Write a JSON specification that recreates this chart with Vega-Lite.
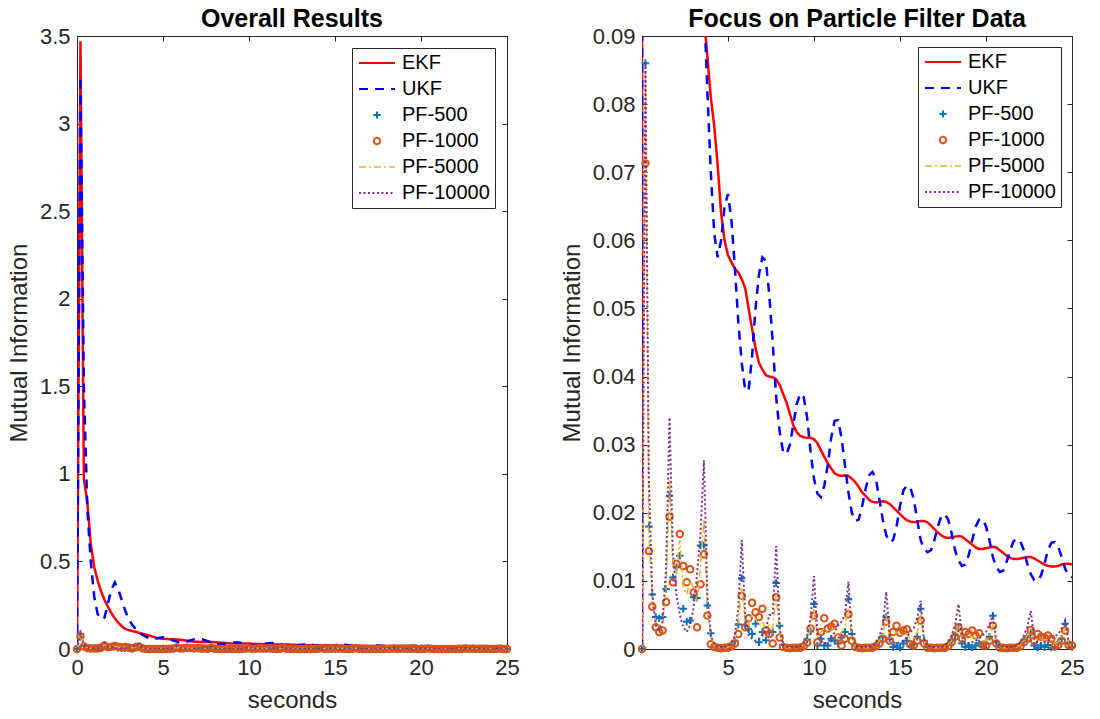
{
"$schema": "https://vega.github.io/schema/vega-lite/v6.json",
"background": "white",
"padding": {"left": 6, "top": 6, "right": 0, "bottom": 0},
"config": {
  "view": {"stroke": "#262626", "strokeWidth": 1},
  "axis": {"grid": false, "domain": false, "tickColor": "#262626", "tickSize": -5, "tickWidth": 1,
    "labelFont": "Liberation Sans", "labelFontSize": 22, "labelColor": "#262626",
    "titleFont": "Liberation Sans", "titleFontSize": 24, "titleFontWeight": "normal", "titleColor": "#262626",
    "labelFlush": false, "labelOverlap": false},
  "title": {"font": "Liberation Sans", "fontSize": 25, "fontWeight": "bold", "color": "#000000", "offset": -7}
},
"datasets": {"mi": [
{"t":0,"EKF":0,"UKF":0,"PF-500":0,"PF-1000":0,"PF-5000":0,"PF-10000":0},
{"t":0.2,"EKF":3.47,"UKF":3.27,"PF-500":0.086,"PF-1000":0.0713,"PF-5000":0.085,"PF-10000":0.086},
{"t":0.4,"EKF":0.97,"UKF":1.5,"PF-500":0.018,"PF-1000":0.0144,"PF-5000":0.017,"PF-10000":0.025},
{"t":0.6,"EKF":0.84,"UKF":0.8,"PF-500":0.008,"PF-1000":0.0062,"PF-5000":0.007,"PF-10000":0.008},
{"t":0.8,"EKF":0.6,"UKF":0.5,"PF-500":0.0047,"PF-1000":0.0032,"PF-5000":0.004,"PF-10000":0.0035},
{"t":1.0,"EKF":0.47,"UKF":0.3,"PF-500":0.0045,"PF-1000":0.0025,"PF-5000":0.0035,"PF-10000":0.0028},
{"t":1.2,"EKF":0.39,"UKF":0.2,"PF-500":0.0047,"PF-1000":0.0027,"PF-5000":0.004,"PF-10000":0.004},
{"t":1.4,"EKF":0.33,"UKF":0.17,"PF-500":0.0088,"PF-1000":0.0069,"PF-5000":0.009,"PF-10000":0.012},
{"t":1.6,"EKF":0.28,"UKF":0.18,"PF-500":0.0225,"PF-1000":0.0194,"PF-5000":0.025,"PF-10000":0.034},
{"t":1.8,"EKF":0.24,"UKF":0.26,"PF-500":0.0105,"PF-1000":0.0098,"PF-5000":0.012,"PF-10000":0.014},
{"t":2.0,"EKF":0.205,"UKF":0.34,"PF-500":0.012,"PF-1000":0.0125,"PF-5000":0.011,"PF-10000":0.008},
{"t":2.2,"EKF":0.175,"UKF":0.38,"PF-500":0.0137,"PF-1000":0.0169,"PF-5000":0.016,"PF-10000":0.005},
{"t":2.4,"EKF":0.15,"UKF":0.34,"PF-500":0.0059,"PF-1000":0.0122,"PF-5000":0.009,"PF-10000":0.0032},
{"t":2.6,"EKF":0.13,"UKF":0.28,"PF-500":0.004,"PF-1000":0.0098,"PF-5000":0.008,"PF-10000":0.0025},
{"t":2.8,"EKF":0.115,"UKF":0.22,"PF-500":0.0042,"PF-1000":0.0117,"PF-5000":0.01,"PF-10000":0.0035},
{"t":3.0,"EKF":0.108,"UKF":0.17,"PF-500":0.0076,"PF-1000":0.0083,"PF-5000":0.009,"PF-10000":0.006},
{"t":3.2,"EKF":0.103,"UKF":0.14,"PF-500":0.0075,"PF-1000":0.0032,"PF-5000":0.007,"PF-10000":0.011},
{"t":3.4,"EKF":0.099,"UKF":0.115,"PF-500":0.0152,"PF-1000":0.0095,"PF-5000":0.012,"PF-10000":0.017},
{"t":3.6,"EKF":0.093,"UKF":0.095,"PF-500":0.0152,"PF-1000":0.0139,"PF-5000":0.019,"PF-10000":0.0277},
{"t":3.8,"EKF":0.087,"UKF":0.082,"PF-500":0.0064,"PF-1000":0.0049,"PF-5000":0.006,"PF-10000":0.008},
{"t":4.0,"EKF":0.081,"UKF":0.07,"PF-500":0.0023,"PF-1000":0.0007,"PF-5000":0.0015,"PF-10000":0.002},
{"t":4.2,"EKF":0.0768,"UKF":0.061,"PF-500":0.0005,"PF-1000":0.0003,"PF-5000":0.0004,"PF-10000":0.0006},
{"t":4.4,"EKF":0.071,"UKF":0.0575,"PF-500":0.0002,"PF-1000":0.0002,"PF-5000":0.0002,"PF-10000":0.0003},
{"t":4.6,"EKF":0.064,"UKF":0.06,"PF-500":0.0002,"PF-1000":0.0001,"PF-5000":0.0002,"PF-10000":0.0003},
{"t":4.8,"EKF":0.06,"UKF":0.065,"PF-500":0.0002,"PF-1000":0.0002,"PF-5000":0.0002,"PF-10000":0.0003},
{"t":5.0,"EKF":0.0578,"UKF":0.0668,"PF-500":0.0003,"PF-1000":0.0002,"PF-5000":0.0003,"PF-10000":0.0004},
{"t":5.2,"EKF":0.0568,"UKF":0.063,"PF-500":0.0006,"PF-1000":0.0004,"PF-5000":0.0005,"PF-10000":0.0008},
{"t":5.4,"EKF":0.0558,"UKF":0.056,"PF-500":0.0012,"PF-1000":0.0008,"PF-5000":0.0015,"PF-10000":0.002},
{"t":5.6,"EKF":0.0553,"UKF":0.048,"PF-500":0.0036,"PF-1000":0.0022,"PF-5000":0.004,"PF-10000":0.006},
{"t":5.8,"EKF":0.0543,"UKF":0.042,"PF-500":0.0104,"PF-1000":0.0078,"PF-5000":0.009,"PF-10000":0.016},
{"t":6.0,"EKF":0.053,"UKF":0.038,"PF-500":0.0035,"PF-1000":0.0032,"PF-5000":0.004,"PF-10000":0.005},
{"t":6.2,"EKF":0.05,"UKF":0.038,"PF-500":0.0029,"PF-1000":0.0045,"PF-5000":0.0035,"PF-10000":0.002},
{"t":6.4,"EKF":0.047,"UKF":0.043,"PF-500":0.0022,"PF-1000":0.0068,"PF-5000":0.005,"PF-10000":0.0015},
{"t":6.6,"EKF":0.0442,"UKF":0.05,"PF-500":0.0037,"PF-1000":0.0054,"PF-5000":0.0045,"PF-10000":0.0012},
{"t":6.8,"EKF":0.042,"UKF":0.055,"PF-500":0.001,"PF-1000":0.0047,"PF-5000":0.0035,"PF-10000":0.0015},
{"t":7.0,"EKF":0.041,"UKF":0.0575,"PF-500":0.0025,"PF-1000":0.0059,"PF-5000":0.004,"PF-10000":0.002},
{"t":7.2,"EKF":0.0402,"UKF":0.057,"PF-500":0.0013,"PF-1000":0.0027,"PF-5000":0.003,"PF-10000":0.003},
{"t":7.4,"EKF":0.04,"UKF":0.052,"PF-500":0.0025,"PF-1000":0.0022,"PF-5000":0.0035,"PF-10000":0.005},
{"t":7.6,"EKF":0.0399,"UKF":0.045,"PF-500":0.0025,"PF-1000":0.0008,"PF-5000":0.003,"PF-10000":0.005},
{"t":7.8,"EKF":0.0396,"UKF":0.037,"PF-500":0.0097,"PF-1000":0.0076,"PF-5000":0.008,"PF-10000":0.0151},
{"t":8.0,"EKF":0.0388,"UKF":0.032,"PF-500":0.0034,"PF-1000":0.0017,"PF-5000":0.0025,"PF-10000":0.003},
{"t":8.2,"EKF":0.0375,"UKF":0.029,"PF-500":0.0006,"PF-1000":0.0003,"PF-5000":0.0005,"PF-10000":0.0006},
{"t":8.4,"EKF":0.0362,"UKF":0.0286,"PF-500":0.0002,"PF-1000":0.0002,"PF-5000":0.0002,"PF-10000":0.0003},
{"t":8.6,"EKF":0.0345,"UKF":0.03,"PF-500":0.0002,"PF-1000":0.0001,"PF-5000":0.0002,"PF-10000":0.0003},
{"t":8.8,"EKF":0.0328,"UKF":0.033,"PF-500":0.0002,"PF-1000":0.0002,"PF-5000":0.0002,"PF-10000":0.0003},
{"t":9.0,"EKF":0.0318,"UKF":0.036,"PF-500":0.0002,"PF-1000":0.0002,"PF-5000":0.0002,"PF-10000":0.0003},
{"t":9.2,"EKF":0.0313,"UKF":0.0375,"PF-500":0.0003,"PF-1000":0.0002,"PF-5000":0.0003,"PF-10000":0.0004},
{"t":9.4,"EKF":0.0311,"UKF":0.037,"PF-500":0.0006,"PF-1000":0.0004,"PF-5000":0.0006,"PF-10000":0.0008},
{"t":9.6,"EKF":0.031,"UKF":0.034,"PF-500":0.0014,"PF-1000":0.0009,"PF-5000":0.0015,"PF-10000":0.002},
{"t":9.8,"EKF":0.031,"UKF":0.029,"PF-500":0.0026,"PF-1000":0.003,"PF-5000":0.003,"PF-10000":0.0045},
{"t":10.0,"EKF":0.0308,"UKF":0.025,"PF-500":0.0066,"PF-1000":0.0049,"PF-5000":0.006,"PF-10000":0.0107},
{"t":10.2,"EKF":0.0302,"UKF":0.0228,"PF-500":0.0005,"PF-1000":0.001,"PF-5000":0.0018,"PF-10000":0.002},
{"t":10.4,"EKF":0.0292,"UKF":0.0223,"PF-500":0.0015,"PF-1000":0.0025,"PF-5000":0.0025,"PF-10000":0.0012},
{"t":10.6,"EKF":0.0282,"UKF":0.024,"PF-500":0.0005,"PF-1000":0.0045,"PF-5000":0.003,"PF-10000":0.0008},
{"t":10.8,"EKF":0.0273,"UKF":0.027,"PF-500":0.0005,"PF-1000":0.003,"PF-5000":0.0025,"PF-10000":0.001},
{"t":11.0,"EKF":0.0265,"UKF":0.031,"PF-500":0.0015,"PF-1000":0.0033,"PF-5000":0.0028,"PF-10000":0.0015},
{"t":11.2,"EKF":0.0258,"UKF":0.0335,"PF-500":0.0012,"PF-1000":0.0037,"PF-5000":0.003,"PF-10000":0.0025},
{"t":11.4,"EKF":0.0255,"UKF":0.0336,"PF-500":0.0008,"PF-1000":0.0017,"PF-5000":0.002,"PF-10000":0.0035},
{"t":11.6,"EKF":0.0254,"UKF":0.031,"PF-500":0.0017,"PF-1000":0.0005,"PF-5000":0.0025,"PF-10000":0.004},
{"t":11.8,"EKF":0.0255,"UKF":0.027,"PF-500":0.0025,"PF-1000":0.0015,"PF-5000":0.0035,"PF-10000":0.005},
{"t":12.0,"EKF":0.0254,"UKF":0.023,"PF-500":0.0073,"PF-1000":0.0051,"PF-5000":0.006,"PF-10000":0.0099},
{"t":12.2,"EKF":0.025,"UKF":0.02,"PF-500":0.0022,"PF-1000":0.0012,"PF-5000":0.0018,"PF-10000":0.002},
{"t":12.4,"EKF":0.0245,"UKF":0.0188,"PF-500":0.0005,"PF-1000":0.0003,"PF-5000":0.0004,"PF-10000":0.0005},
{"t":12.6,"EKF":0.0238,"UKF":0.019,"PF-500":0.0002,"PF-1000":0.0002,"PF-5000":0.0002,"PF-10000":0.0003},
{"t":12.8,"EKF":0.023,"UKF":0.021,"PF-500":0.0002,"PF-1000":0.0001,"PF-5000":0.0002,"PF-10000":0.0003},
{"t":13.0,"EKF":0.0225,"UKF":0.0235,"PF-500":0.0002,"PF-1000":0.0002,"PF-5000":0.0002,"PF-10000":0.0003},
{"t":13.2,"EKF":0.0219,"UKF":0.0255,"PF-500":0.0002,"PF-1000":0.0002,"PF-5000":0.0002,"PF-10000":0.0003},
{"t":13.4,"EKF":0.0216,"UKF":0.026,"PF-500":0.0003,"PF-1000":0.0002,"PF-5000":0.0003,"PF-10000":0.0004},
{"t":13.6,"EKF":0.0215,"UKF":0.025,"PF-500":0.0005,"PF-1000":0.0004,"PF-5000":0.0006,"PF-10000":0.0008},
{"t":13.8,"EKF":0.0216,"UKF":0.022,"PF-500":0.0012,"PF-1000":0.0008,"PF-5000":0.0012,"PF-10000":0.0018},
{"t":14.0,"EKF":0.0217,"UKF":0.019,"PF-500":0.0018,"PF-1000":0.0015,"PF-5000":0.002,"PF-10000":0.0035},
{"t":14.2,"EKF":0.0216,"UKF":0.0167,"PF-500":0.0047,"PF-1000":0.004,"PF-5000":0.005,"PF-10000":0.0084},
{"t":14.4,"EKF":0.0213,"UKF":0.0157,"PF-500":0.0015,"PF-1000":0.0012,"PF-5000":0.0015,"PF-10000":0.002},
{"t":14.6,"EKF":0.0208,"UKF":0.016,"PF-500":0.0003,"PF-1000":0.0025,"PF-5000":0.002,"PF-10000":0.001},
{"t":14.8,"EKF":0.0203,"UKF":0.018,"PF-500":0.0005,"PF-1000":0.0034,"PF-5000":0.0025,"PF-10000":0.0008},
{"t":15.0,"EKF":0.0198,"UKF":0.021,"PF-500":0.0002,"PF-1000":0.0024,"PF-5000":0.002,"PF-10000":0.001},
{"t":15.2,"EKF":0.0193,"UKF":0.0233,"PF-500":0.0008,"PF-1000":0.0027,"PF-5000":0.0022,"PF-10000":0.0012},
{"t":15.4,"EKF":0.0189,"UKF":0.024,"PF-500":0.0012,"PF-1000":0.0029,"PF-5000":0.0022,"PF-10000":0.0018},
{"t":15.6,"EKF":0.0187,"UKF":0.0237,"PF-500":0.0004,"PF-1000":0.0007,"PF-5000":0.0015,"PF-10000":0.0025},
{"t":15.8,"EKF":0.0186,"UKF":0.022,"PF-500":0.0007,"PF-1000":0.0005,"PF-5000":0.0015,"PF-10000":0.003},
{"t":16.0,"EKF":0.0187,"UKF":0.019,"PF-500":0.0018,"PF-1000":0.0012,"PF-5000":0.0025,"PF-10000":0.0045},
{"t":16.2,"EKF":0.0188,"UKF":0.016,"PF-500":0.0059,"PF-1000":0.0042,"PF-5000":0.005,"PF-10000":0.0071},
{"t":16.4,"EKF":0.0188,"UKF":0.0147,"PF-500":0.0012,"PF-1000":0.0008,"PF-5000":0.001,"PF-10000":0.0012},
{"t":16.6,"EKF":0.0186,"UKF":0.0142,"PF-500":0.0003,"PF-1000":0.0002,"PF-5000":0.0003,"PF-10000":0.0004},
{"t":16.8,"EKF":0.0181,"UKF":0.0145,"PF-500":0.0002,"PF-1000":0.0002,"PF-5000":0.0002,"PF-10000":0.0003},
{"t":17.0,"EKF":0.0176,"UKF":0.016,"PF-500":0.0002,"PF-1000":0.0001,"PF-5000":0.0002,"PF-10000":0.0003},
{"t":17.2,"EKF":0.0171,"UKF":0.018,"PF-500":0.0002,"PF-1000":0.0002,"PF-5000":0.0002,"PF-10000":0.0003},
{"t":17.4,"EKF":0.0167,"UKF":0.0195,"PF-500":0.0002,"PF-1000":0.0002,"PF-5000":0.0002,"PF-10000":0.0003},
{"t":17.6,"EKF":0.0164,"UKF":0.0198,"PF-500":0.0003,"PF-1000":0.0002,"PF-5000":0.0003,"PF-10000":0.0005},
{"t":17.8,"EKF":0.0163,"UKF":0.019,"PF-500":0.0006,"PF-1000":0.0004,"PF-5000":0.0006,"PF-10000":0.001},
{"t":18.0,"EKF":0.0164,"UKF":0.017,"PF-500":0.0012,"PF-1000":0.001,"PF-5000":0.0012,"PF-10000":0.002},
{"t":18.2,"EKF":0.0165,"UKF":0.0145,"PF-500":0.002,"PF-1000":0.0018,"PF-5000":0.0022,"PF-10000":0.0035},
{"t":18.4,"EKF":0.0166,"UKF":0.013,"PF-500":0.003,"PF-1000":0.0032,"PF-5000":0.0035,"PF-10000":0.0066},
{"t":18.6,"EKF":0.0165,"UKF":0.0122,"PF-500":0.0008,"PF-1000":0.0015,"PF-5000":0.0015,"PF-10000":0.002},
{"t":18.8,"EKF":0.0161,"UKF":0.0124,"PF-500":0.0003,"PF-1000":0.0025,"PF-5000":0.0018,"PF-10000":0.0008},
{"t":19.0,"EKF":0.0157,"UKF":0.0138,"PF-500":0.0005,"PF-1000":0.0022,"PF-5000":0.0018,"PF-10000":0.0008},
{"t":19.2,"EKF":0.0153,"UKF":0.016,"PF-500":0.0002,"PF-1000":0.0027,"PF-5000":0.0018,"PF-10000":0.001},
{"t":19.4,"EKF":0.0149,"UKF":0.018,"PF-500":0.0005,"PF-1000":0.002,"PF-5000":0.0016,"PF-10000":0.0012},
{"t":19.6,"EKF":0.0147,"UKF":0.019,"PF-500":0.0008,"PF-1000":0.0023,"PF-5000":0.0018,"PF-10000":0.0015},
{"t":19.8,"EKF":0.0147,"UKF":0.0191,"PF-500":0.0004,"PF-1000":0.0006,"PF-5000":0.0012,"PF-10000":0.002},
{"t":20.0,"EKF":0.0148,"UKF":0.018,"PF-500":0.0008,"PF-1000":0.0005,"PF-5000":0.0012,"PF-10000":0.0025},
{"t":20.2,"EKF":0.0149,"UKF":0.016,"PF-500":0.0018,"PF-1000":0.0012,"PF-5000":0.002,"PF-10000":0.0035},
{"t":20.4,"EKF":0.015,"UKF":0.0135,"PF-500":0.0049,"PF-1000":0.0034,"PF-5000":0.0035,"PF-10000":0.0051},
{"t":20.6,"EKF":0.0149,"UKF":0.012,"PF-500":0.001,"PF-1000":0.0008,"PF-5000":0.001,"PF-10000":0.0012},
{"t":20.8,"EKF":0.0145,"UKF":0.0113,"PF-500":0.0003,"PF-1000":0.0002,"PF-5000":0.0003,"PF-10000":0.0004},
{"t":21.0,"EKF":0.0141,"UKF":0.0115,"PF-500":0.0002,"PF-1000":0.0002,"PF-5000":0.0002,"PF-10000":0.0003},
{"t":21.2,"EKF":0.0137,"UKF":0.0128,"PF-500":0.0002,"PF-1000":0.0001,"PF-5000":0.0002,"PF-10000":0.0003},
{"t":21.4,"EKF":0.0134,"UKF":0.0145,"PF-500":0.0002,"PF-1000":0.0002,"PF-5000":0.0002,"PF-10000":0.0003},
{"t":21.6,"EKF":0.0132,"UKF":0.0158,"PF-500":0.0002,"PF-1000":0.0002,"PF-5000":0.0002,"PF-10000":0.0003},
{"t":21.8,"EKF":0.0132,"UKF":0.0162,"PF-500":0.0003,"PF-1000":0.0002,"PF-5000":0.0003,"PF-10000":0.0005},
{"t":22.0,"EKF":0.0133,"UKF":0.0158,"PF-500":0.0006,"PF-1000":0.0004,"PF-5000":0.0006,"PF-10000":0.001},
{"t":22.2,"EKF":0.0134,"UKF":0.0145,"PF-500":0.0012,"PF-1000":0.001,"PF-5000":0.0012,"PF-10000":0.002},
{"t":22.4,"EKF":0.0135,"UKF":0.0125,"PF-500":0.0018,"PF-1000":0.0015,"PF-5000":0.002,"PF-10000":0.0032},
{"t":22.6,"EKF":0.0135,"UKF":0.011,"PF-500":0.0024,"PF-1000":0.0028,"PF-5000":0.003,"PF-10000":0.0056},
{"t":22.8,"EKF":0.0133,"UKF":0.0101,"PF-500":0.0005,"PF-1000":0.0012,"PF-5000":0.0012,"PF-10000":0.0015},
{"t":23.0,"EKF":0.013,"UKF":0.01,"PF-500":0.0002,"PF-1000":0.0022,"PF-5000":0.0015,"PF-10000":0.0008},
{"t":23.2,"EKF":0.0127,"UKF":0.0108,"PF-500":0.0005,"PF-1000":0.0018,"PF-5000":0.0014,"PF-10000":0.0008},
{"t":23.4,"EKF":0.0124,"UKF":0.0125,"PF-500":0.0003,"PF-1000":0.0017,"PF-5000":0.0013,"PF-10000":0.001},
{"t":23.6,"EKF":0.0122,"UKF":0.0145,"PF-500":0.0006,"PF-1000":0.002,"PF-5000":0.0015,"PF-10000":0.0012},
{"t":23.8,"EKF":0.0121,"UKF":0.0156,"PF-500":0.0002,"PF-1000":0.0015,"PF-5000":0.0012,"PF-10000":0.0015},
{"t":24.0,"EKF":0.0121,"UKF":0.0157,"PF-500":0.0003,"PF-1000":0.0004,"PF-5000":0.0008,"PF-10000":0.0018},
{"t":24.2,"EKF":0.0122,"UKF":0.015,"PF-500":0.0008,"PF-1000":0.0006,"PF-5000":0.001,"PF-10000":0.0022},
{"t":24.4,"EKF":0.0124,"UKF":0.0135,"PF-500":0.0015,"PF-1000":0.0012,"PF-5000":0.0018,"PF-10000":0.003},
{"t":24.6,"EKF":0.0125,"UKF":0.0118,"PF-500":0.0037,"PF-1000":0.0027,"PF-5000":0.003,"PF-10000":0.0042},
{"t":24.8,"EKF":0.0125,"UKF":0.0108,"PF-500":0.0008,"PF-1000":0.0006,"PF-5000":0.001,"PF-10000":0.0012},
{"t":25.0,"EKF":0.0124,"UKF":0.0105,"PF-500":0.0003,"PF-1000":0.0005,"PF-5000":0.0004,"PF-10000":0.0005}
]},
"resolve": {"scale": {"color": "independent"}, "legend": {"color": "independent"}},
"bounds": "flush",
"spacing": 135,
"hconcat": [
{
  "width": 430, "height": 613,
  "title": {"text": "Overall Results"},
  "data": {"name": "mi"},
  "transform": [{"fold": ["EKF","UKF","PF-500","PF-1000","PF-5000","PF-10000"], "as": ["series","value"]}],
  "resolve": {"axis": {"x": "independent", "y": "independent"}},
  "layer": [
    {"transform": [{"filter": "datum.series === 'EKF'"}],
     "mark": {"type": "line", "strokeWidth": 2.5, "clip": true},
     "encoding": {
       "x": {"field": "t", "type": "quantitative", "scale": {"domain": [0, 25], "nice": false, "zero": false},
             "axis": {"orient": "bottom", "title": "seconds", "values": [0,5,10,15,20,25], "labelPadding": 13, "titlePadding": 10}},
       "y": {"field": "value", "type": "quantitative", "scale": {"domain": [0, 3.5], "nice": false},
             "axis": {"orient": "left", "title": "Mutual Information", "values": [0,0.5,1,1.5,2,2.5,3,3.5], "format": "~g", "labelPadding": 12, "titlePadding": 8}},
       "color": {"field": "series", "type": "nominal",
         "scale": {"domain": ["EKF","UKF","PF-500","PF-1000","PF-5000","PF-10000"], "range": ["#FF0000","#0000FF","#0072BD","#D95319","#EDB120","#7E2F8E"]},
         "legend": {"orient": "top-right", "offset": 12, "title": null, "fillColor": "white", "strokeColor": "#262626", "padding": 5, "cornerRadius": 0,
           "labelFont": "Liberation Sans", "labelFontSize": 20, "labelColor": "#000000", "symbolSize": 256, "symbolStrokeWidth": 2, "rowPadding": 6, "symbolOffset": 10, "labelOffset": 15,
           "encode": {"symbols": {"update": {
             "shape": {"signal": "datum.value === 'PF-500' ? 'M-0.45,0H0.45M0,-0.45V0.45' : datum.value === 'PF-1000' ? 'M0.4,0A0.4,0.4,0,1,1,-0.4,0A0.4,0.4,0,1,1,0.4,0Z' : 'M-2.25,0H2.25'"},
             "strokeDash": {"signal": "datum.value === 'UKF' ? [9,7] : datum.value === 'PF-5000' ? [7,3,2,3] : datum.value === 'PF-10000' ? [2,2.5] : [1,0]"},
             "fill": {"value": "transparent"},
             "fillOpacity": {"value": 0},
             "strokeWidth": {"signal": "datum.value === 'PF-5000' ? 1.5 : 2"},
             "size": {"value": 256}
           }}}}}
     }},
    {"transform": [{"filter": "datum.series === 'UKF'"}],
     "mark": {"type": "line", "strokeWidth": 2.5, "strokeDash": [9, 7], "clip": true},
     "encoding": {
       "x": {"field": "t", "type": "quantitative", "axis": {"orient": "top", "labels": false, "title": null, "values": [0,5,10,15,20,25], "labelPadding": 0, "minExtent": 0, "maxExtent": 0}},
       "y": {"field": "value", "type": "quantitative", "axis": {"orient": "right", "labels": false, "title": null, "values": [0,0.5,1,1.5,2,2.5,3,3.5], "labelPadding": 0, "minExtent": 0, "maxExtent": 0}},
       "color": {"field": "series", "type": "nominal", "legend": null}
     }},
    {"transform": [{"filter": "datum.series === 'PF-500'"}],
     "mark": {"type": "point", "shape": "M-1,0H1M0,-1V1", "size": 55, "strokeWidth": 2, "filled": false, "opacity": 1},
     "encoding": {
       "x": {"field": "t", "type": "quantitative", "axis": null},
       "y": {"field": "value", "type": "quantitative", "axis": null},
       "color": {"field": "series", "type": "nominal", "legend": null}
     }},
    {"transform": [{"filter": "datum.series === 'PF-1000'"}],
     "mark": {"type": "point", "shape": "circle", "size": 42, "strokeWidth": 2, "filled": false, "opacity": 1},
     "encoding": {
       "x": {"field": "t", "type": "quantitative", "axis": null},
       "y": {"field": "value", "type": "quantitative", "axis": null},
       "color": {"field": "series", "type": "nominal", "legend": null}
     }},
    {"transform": [{"filter": "datum.series === 'PF-5000'"}],
     "mark": {"type": "line", "strokeWidth": 1.5, "strokeDash": [7, 3, 2, 3], "clip": true},
     "encoding": {
       "x": {"field": "t", "type": "quantitative", "axis": null},
       "y": {"field": "value", "type": "quantitative", "axis": null},
       "color": {"field": "series", "type": "nominal", "legend": null}
     }},
    {"transform": [{"filter": "datum.series === 'PF-10000'"}],
     "mark": {"type": "line", "strokeWidth": 2, "strokeDash": [2, 2.5], "clip": true},
     "encoding": {
       "x": {"field": "t", "type": "quantitative", "axis": null},
       "y": {"field": "value", "type": "quantitative", "axis": null},
       "color": {"field": "series", "type": "nominal", "legend": null}
     }}
  ]
},
{
  "width": 430, "height": 613,
  "title": {"text": "Focus on Particle Filter Data"},
  "data": {"name": "mi"},
  "transform": [{"fold": ["EKF","UKF","PF-500","PF-1000","PF-5000","PF-10000"], "as": ["series","value"]}],
  "resolve": {"axis": {"x": "independent", "y": "independent"}},
  "layer": [
    {"transform": [{"filter": "datum.series === 'EKF'"}],
     "mark": {"type": "line", "strokeWidth": 2.5, "clip": true},
     "encoding": {
       "x": {"field": "t", "type": "quantitative", "scale": {"domain": [0, 25], "nice": false, "zero": false},
             "axis": {"orient": "bottom", "title": "seconds", "values": [5,10,15,20,25], "labelPadding": 13, "titlePadding": 10}},
       "y": {"field": "value", "type": "quantitative", "scale": {"domain": [0, 0.09], "nice": false},
             "axis": {"orient": "left", "title": "Mutual Information", "values": [0,0.01,0.02,0.03,0.04,0.05,0.06,0.07,0.08,0.09], "format": "~g", "labelPadding": 12, "titlePadding": 8}},
       "color": {"field": "series", "type": "nominal",
         "scale": {"domain": ["EKF","UKF","PF-500","PF-1000","PF-5000","PF-10000"], "range": ["#FF0000","#0000FF","#0072BD","#D95319","#EDB120","#7E2F8E"]},
         "legend": {"orient": "top-right", "offset": 11, "title": null, "fillColor": "white", "strokeColor": "#262626", "padding": 5, "cornerRadius": 0,
           "labelFont": "Liberation Sans", "labelFontSize": 20, "labelColor": "#000000", "symbolSize": 256, "symbolStrokeWidth": 2, "rowPadding": 6, "symbolOffset": 10, "labelOffset": 15,
           "encode": {"symbols": {"update": {
             "shape": {"signal": "datum.value === 'PF-500' ? 'M-0.45,0H0.45M0,-0.45V0.45' : datum.value === 'PF-1000' ? 'M0.4,0A0.4,0.4,0,1,1,-0.4,0A0.4,0.4,0,1,1,0.4,0Z' : 'M-2.25,0H2.25'"},
             "strokeDash": {"signal": "datum.value === 'UKF' ? [9,7] : datum.value === 'PF-5000' ? [7,3,2,3] : datum.value === 'PF-10000' ? [2,2.5] : [1,0]"},
             "fill": {"value": "transparent"},
             "fillOpacity": {"value": 0},
             "strokeWidth": {"signal": "datum.value === 'PF-5000' ? 1.5 : 2"},
             "size": {"value": 256}
           }}}}}
     }},
    {"transform": [{"filter": "datum.series === 'UKF'"}],
     "mark": {"type": "line", "strokeWidth": 2.5, "strokeDash": [9, 7], "clip": true},
     "encoding": {
       "x": {"field": "t", "type": "quantitative", "axis": {"orient": "top", "labels": false, "title": null, "values": [5,10,15,20,25], "labelPadding": 0, "minExtent": 0, "maxExtent": 0}},
       "y": {"field": "value", "type": "quantitative", "axis": {"orient": "right", "labels": false, "title": null, "values": [0,0.01,0.02,0.03,0.04,0.05,0.06,0.07,0.08,0.09], "labelPadding": 0, "minExtent": 0, "maxExtent": 0}},
       "color": {"field": "series", "type": "nominal", "legend": null}
     }},
    {"transform": [{"filter": "datum.series === 'PF-500'"}],
     "mark": {"type": "point", "shape": "M-1,0H1M0,-1V1", "size": 55, "strokeWidth": 2, "filled": false, "opacity": 1},
     "encoding": {
       "x": {"field": "t", "type": "quantitative", "axis": null},
       "y": {"field": "value", "type": "quantitative", "axis": null},
       "color": {"field": "series", "type": "nominal", "legend": null}
     }},
    {"transform": [{"filter": "datum.series === 'PF-1000'"}],
     "mark": {"type": "point", "shape": "circle", "size": 42, "strokeWidth": 2, "filled": false, "opacity": 1},
     "encoding": {
       "x": {"field": "t", "type": "quantitative", "axis": null},
       "y": {"field": "value", "type": "quantitative", "axis": null},
       "color": {"field": "series", "type": "nominal", "legend": null}
     }},
    {"transform": [{"filter": "datum.series === 'PF-5000'"}],
     "mark": {"type": "line", "strokeWidth": 1.5, "strokeDash": [7, 3, 2, 3], "clip": true},
     "encoding": {
       "x": {"field": "t", "type": "quantitative", "axis": null},
       "y": {"field": "value", "type": "quantitative", "axis": null},
       "color": {"field": "series", "type": "nominal", "legend": null}
     }},
    {"transform": [{"filter": "datum.series === 'PF-10000'"}],
     "mark": {"type": "line", "strokeWidth": 2, "strokeDash": [2, 2.5], "clip": true},
     "encoding": {
       "x": {"field": "t", "type": "quantitative", "axis": null},
       "y": {"field": "value", "type": "quantitative", "axis": null},
       "color": {"field": "series", "type": "nominal", "legend": null}
     }}
  ]
}
]
}
